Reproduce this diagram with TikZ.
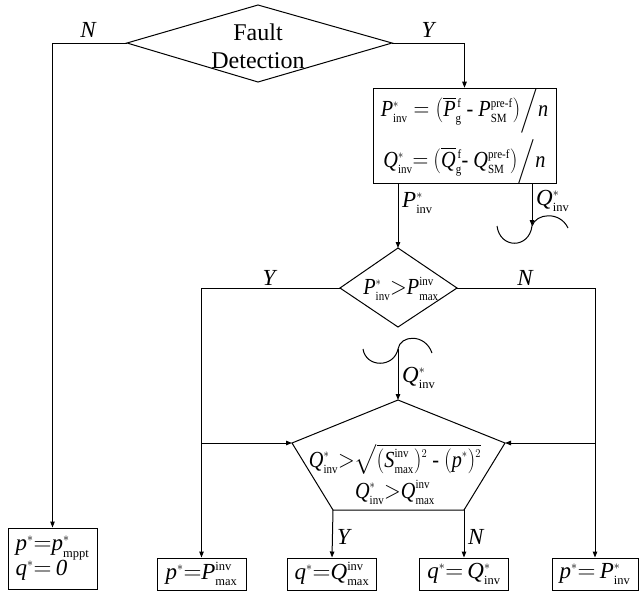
\documentclass[tikz,border=0pt]{standalone}
\usepackage{amsmath}
\usepackage{graphicx}
\usepackage{fontspec}
\setmainfont{Liberation Serif}
\usetikzlibrary{arrows.meta}
\DeclareMathSizes{23}{23}{12.5}{9.5}
\newcommand{\sx}[1]{\text{\normalfont #1}}
\newcommand{\cnd}[1]{\scalebox{0.88}[1]{#1}}
\newcommand{\vPinv}{\mathit{P}^{*}_{\sx{inv}}}
\newcommand{\vQinv}{\mathit{Q}^{*}_{\sx{inv}}}
\newcommand{\vPmax}{\mathit{P}^{\sx{inv}}_{\sx{max}}}
\newcommand{\vQmax}{\mathit{Q}^{\sx{inv}}_{\sx{max}}}
\tikzset{
 ln/.style={line width=1pt},
 arr/.style={line width=1pt,-{Triangle[length=6pt,width=4.5pt]}},
 bx/.style={draw,line width=1pt,inner sep=0pt,font=\fontsize{23}{27}\selectfont,align=center},
 lbl/.style={font=\fontsize{23}{27}\selectfont\itshape,inner sep=0pt},
 txt/.style={font=\fontsize{23}{27}\selectfont,inner sep=0pt,align=center},
}
\begin{document}
\begin{tikzpicture}[x=1pt,y=-1pt]
\useasboundingbox (0,0) rectangle (639,595);
% Fault detection diamond
\coordinate (fdT) at (258,5);
\coordinate (fdL) at (127,43);
\coordinate (fdR) at (392,43);
\coordinate (fdB) at (258,82);
\draw[ln] (fdT) -- (fdR) -- (fdB) -- (fdL) -- cycle;
\node[txt,font=\fontsize{24}{28}\selectfont] (fd) at (258,46) {Fault\\Detection};
\node[lbl] (nA) at (88,30) {N};
\node[lbl] (yA) at (428,30) {Y};
% left box
\node[bx,minimum width=89pt,minimum height=61pt,align=left] (bL) at (52.5,558.5)
 {$\mathit{p}^{*}{=}\mathit{p}^{*}_{\sx{mppt}}$\\[-2pt]$\mathit{q}^{*}{=}\,\mathit{0}$};
\draw[arr] (fdL) -| (bL.north);
% top box
\node[bx,minimum width=183pt,minimum height=86pt] (tb) at (464.5,136)
 {\cnd{$\vPinv = (\overline{\mathit{P}}{}^{\,\sx{f}}_{\sx{g}}\sx{ - }\mathit{P}^{\sx{pre-f}}_{\sx{SM}})\Big/\mathit{n}$}\\[5pt]
  \cnd{$\vQinv{=}\ (\overline{\mathit{Q}}{}^{\,\sx{f}}_{\sx{g}}\sx{- }\mathit{Q}^{\sx{pre-f}}_{\sx{SM}})\Big/\mathit{n}$}};
\draw[arr] (fdR) -| (tb.north);
% diamond 2
\coordinate (dT) at (398,248);
\coordinate (dL) at (340,288);
\coordinate (dR) at (457,288);
\coordinate (dB) at (398,327);
\draw[ln] (dT) -- (dR) -- (dB) -- (dL) -- cycle;
\node[txt] (d2) at (401,289) {\cnd{$\vPinv{>}\vPmax$}};
\draw[arr] (dT |- tb.south) -- (dT);
\node[lbl,anchor=west] (lp) at (402,203) {$\vPinv$};
% Q connector top
\coordinate (qj1) at (532,226);
\draw[arr] (qj1 |- tb.south) -- (qj1);
\node[lbl,anchor=west] (lq1) at (536,201) {$\vQinv$};
\draw[ln] (497,226) .. controls (500,249) and (529,249) .. (qj1);
\draw[ln] (qj1) .. controls (536,213) and (560,211) .. (568,228);
% Q connector lower
\coordinate (qj2) at (398,349);
\draw[ln] (363,349) .. controls (366,368) and (394,368) .. (qj2);
\draw[ln] (qj2) .. controls (400,335) and (425,333) .. (432,353);
% pentagon
\coordinate (pT) at (398,400);
\coordinate (pUR) at (505,443);
\coordinate (pLR) at (464,510);
\coordinate (pLL) at (333,510);
\coordinate (pUL) at (292,443);
\draw[ln] (pT) -- (pUR) -- (pLR) -- (pLL) -- (pUL) -- cycle;
\node[txt] (pt) at (395,474)
 {\cnd{$\vQinv{>}\sqrt{\vphantom{(}\smash{(\mathit{S}^{\sx{inv}}_{\sx{max}})^{2}\sx{ - }(\mathit{p}^{*})^{2}}}$}\\[4pt]
  \cnd{$\vQinv{>}\vQmax$}};
\draw[arr] (qj2) -- (pT);
\node[lbl,anchor=west] (lq2) at (402,378) {$\vQinv$};
\node[lbl] (yB) at (269,278) {Y};
\node[lbl] (nB) at (525,278) {N};
% bottom boxes
\node[bx,minimum width=89pt,minimum height=32pt] (b1) at (201.5,574) {$\mathit{p}^{*}{=}\vPmax$};
\node[bx,minimum width=89pt,minimum height=32pt] (b2) at (332,574) {$\mathit{q}^{*}{=}\vQmax$};
\node[bx,minimum width=89pt,minimum height=32pt] (b3) at (464,574) {$\mathit{q}^{*}{=}\,\vQinv$};
\node[bx,minimum width=86pt,minimum height=32pt] (b4) at (595,574) {$\mathit{p}^{*}{=}\,\vPinv$};
\draw[arr] (dL) -| (b1.north);
\draw[arr] (dR) -| (b4.north);
\draw[arr] (b1.north |- pUL) -- (pUL);
\draw[arr] (b4.north |- pUR) -- (pUR);
\draw[arr] (pLL) -- (b2.north);
\draw[arr] (pLR) -- (b3.north);
\node[lbl,anchor=west] (yC) at (337,537) {Y};
\node[lbl,anchor=west] (nC) at (468,537) {N};
\end{tikzpicture}
\end{document}
